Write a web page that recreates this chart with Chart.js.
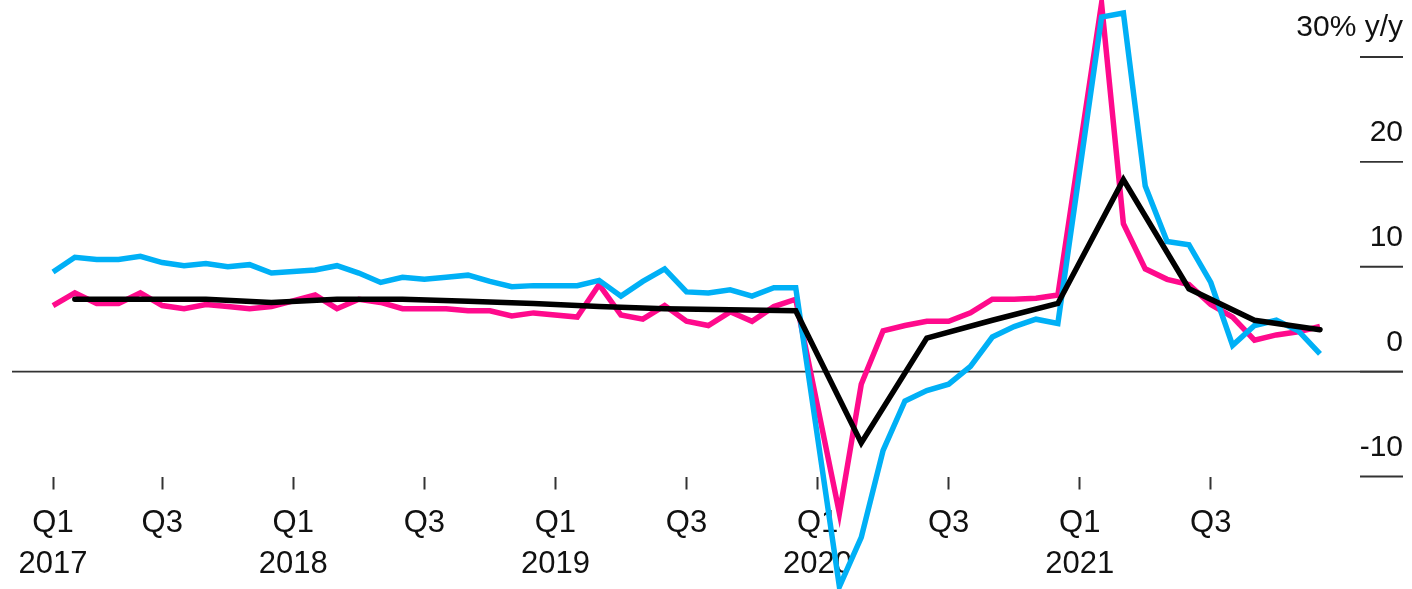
<!DOCTYPE html>
<html>
<head>
<meta charset="utf-8">
<script src="https://cdn.jsdelivr.net/npm/chart.js@4.4.1/dist/chart.umd.min.js"></script>
<style>
  html, body { margin: 0; padding: 0; background: #fff; }
</style>
</head>
<body>
<canvas id="chart" width="1412" height="589"></canvas>
<script>
// Monthly categories, Feb 2017 .. Dec 2021 (January figures are not published separately)
const months = [];
for (let y = 2017; y <= 2021; y++) {
    for (let m = 1; m <= 12; m++) {
        if (y === 2017 && m === 1) continue;
        months.push(y + '-' + String(m).padStart(2, '0'));
    }
}

// Pink series, % y/y (null = January, no reading)
const pinkSeries = [
    6.3, 7.5, 6.5, 6.5, 7.5, 6.3, 6.0, 6.4, 6.2, 6.0, 6.2, null,
    7.3, 6.0, 6.9, 6.6, 6.0, 6.0, 6.0, 5.8, 5.8, 5.3, 5.6, null,
    5.2, 8.3, 5.4, 5.0, 6.3, 4.8, 4.4, 5.7, 4.8, 6.2, 6.9, null,
    -13.5, -1.2, 3.9, 4.4, 4.8, 4.8, 5.6, 6.9, 6.9, 7.0, 7.3, null,
    35.1, 14.1, 9.8, 8.8, 8.3, 6.4, 5.2, 3.0, 3.5, 3.8, 4.3
];

// Blue series, % y/y
const blueSeries = [
    9.5, 10.9, 10.7, 10.7, 11.0, 10.4, 10.1, 10.3, 10.0, 10.2, 9.4, null,
    9.7, 10.1, 9.4, 8.5, 9.0, 8.8, 9.0, 9.2, 8.6, 8.1, 8.2, null,
    8.2, 8.7, 7.2, 8.6, 9.8, 7.6, 7.5, 7.8, 7.2, 8.0, 8.0, null,
    -20.5, -15.8, -7.5, -2.8, -1.8, -1.2, 0.5, 3.3, 4.3, 5.0, 4.6, null,
    33.8, 34.2, 17.7, 12.4, 12.1, 8.5, 2.5, 4.4, 4.9, 3.9, 1.7
];

// Black series, quarterly % y/y, plotted at the quarter's last month
const quarterEnds = [
    '2017-03', '2017-06', '2017-09', '2017-12',
    '2018-03', '2018-06', '2018-09', '2018-12',
    '2019-03', '2019-06', '2019-09', '2019-12',
    '2020-03', '2020-06', '2020-09', '2020-12',
    '2021-03', '2021-06', '2021-09', '2021-12'
];
const blackSeries = [
    6.9, 6.9, 6.9, 6.6,
    6.9, 6.9, 6.7, 6.5,
    6.2, 6.0, 5.9, 5.8,
    -6.8, 3.2, 4.9, 6.5,
    18.3, 7.9, 4.9, 4.0
];

// X tick marks (quarter starts; the first one sits at the start of the data)
const xTickMonths = ['2017-02', '2017-07', '2018-01', '2018-07', '2019-01', '2019-07', '2020-01', '2020-07', '2021-01', '2021-07'];
const xTickLabels = [['Q1', '2017'], 'Q3', ['Q1', '2018'], 'Q3', ['Q1', '2019'], 'Q3', ['Q1', '2020'], 'Q3', ['Q1', '2021'], 'Q3'];

// Y ticks (drawn on the right)
const yTickValues = [30, 20, 10, 0, -10];
const yTickLabels = ['30% y/y', '20', '10', '0', '-10'];

const colors = {
    pink: '#FF0A8C',
    blue: '#00B0F6',
    black: '#000000',
    text: '#111111',
    rule: '#333333'
};
const FONT = "'Liberation Sans', Arial, Helvetica, sans-serif";

// Zero line and right-hand value labels
const axisDecor = {
    id: 'axisDecor',
    beforeDatasetsDraw(chart) {
        const { ctx, chartArea, scales: { y } } = chart;
        const y0 = y.getPixelForValue(0);
        ctx.save();
        ctx.strokeStyle = colors.rule;
        ctx.lineWidth = 1.8;
        ctx.beginPath();
        ctx.moveTo(chartArea.left - 41, y0);
        ctx.lineTo(chartArea.right + 83, y0);
        ctx.stroke();
        ctx.restore();
    },
    afterDraw(chart) {
        const { ctx, chartArea, scales: { y } } = chart;
        const xr = chartArea.right + 83;
        ctx.save();
        ctx.font = '30px ' + FONT;
        ctx.fillStyle = colors.text;
        ctx.textAlign = 'right';
        ctx.textBaseline = 'alphabetic';
        ctx.strokeStyle = colors.rule;
        ctx.lineWidth = 1.8;
        yTickValues.forEach((v, i) => {
            const py = y.getPixelForValue(v);
            ctx.beginPath();
            ctx.moveTo(chartArea.right + 40, py);
            ctx.lineTo(xr, py);
            ctx.stroke();
            ctx.fillText(yTickLabels[i], xr, py - 21);
        });
        ctx.restore();
    }
};

const lineStyle = {
    borderWidth: 5.5,
    pointRadius: 0,
    pointHoverRadius: 0,
    tension: 0,
    spanGaps: true,
    clip: false,
    fill: false
};

new Chart(document.getElementById('chart').getContext('2d'), {
    type: 'line',
    data: {
        labels: months,
        datasets: [
            {
                ...lineStyle,
                label: 'Quarterly',
                data: quarterEnds.map((m, i) => ({ x: m, y: blackSeries[i] })),
                borderColor: colors.black,
                backgroundColor: colors.black,
                borderCapStyle: 'round'
            },
            {
                ...lineStyle,
                label: 'Blue',
                data: blueSeries,
                borderColor: colors.blue,
                backgroundColor: colors.blue
            },
            {
                ...lineStyle,
                label: 'Pink',
                data: pinkSeries,
                borderColor: colors.pink,
                backgroundColor: colors.pink
            }
        ]
    },
    options: {
        responsive: false,
        animation: false,
        devicePixelRatio: 1,
        layout: {
            padding: { left: 53, right: 92, top: 57, bottom: 0 }
        },
        plugins: {
            legend: { display: false },
            tooltip: { enabled: false }
        },
        scales: {
            x: {
                type: 'category',
                offset: false,
                border: { display: false },
                grid: {
                    drawOnChartArea: false,
                    drawTicks: true,
                    tickLength: 13,
                    tickWidth: 2,
                    tickColor: colors.rule
                },
                afterBuildTicks: (axis) => {
                    axis.ticks = xTickMonths.map(m => ({ value: months.indexOf(m) }));
                },
                afterFit: (axis) => {
                    axis.height = 112.5;
                },
                ticks: {
                    autoSkip: false,
                    maxRotation: 0,
                    padding: 13,
                    color: colors.text,
                    font: { family: FONT, size: 31, lineHeight: 1.33 },
                    callback: (value) => {
                        const i = xTickMonths.indexOf(months[value]);
                        return i >= 0 ? xTickLabels[i] : '';
                    }
                }
            },
            y: {
                display: false,
                min: -10,
                max: 30
            }
        }
    },
    plugins: [axisDecor]
});
</script>
</body>
</html>
